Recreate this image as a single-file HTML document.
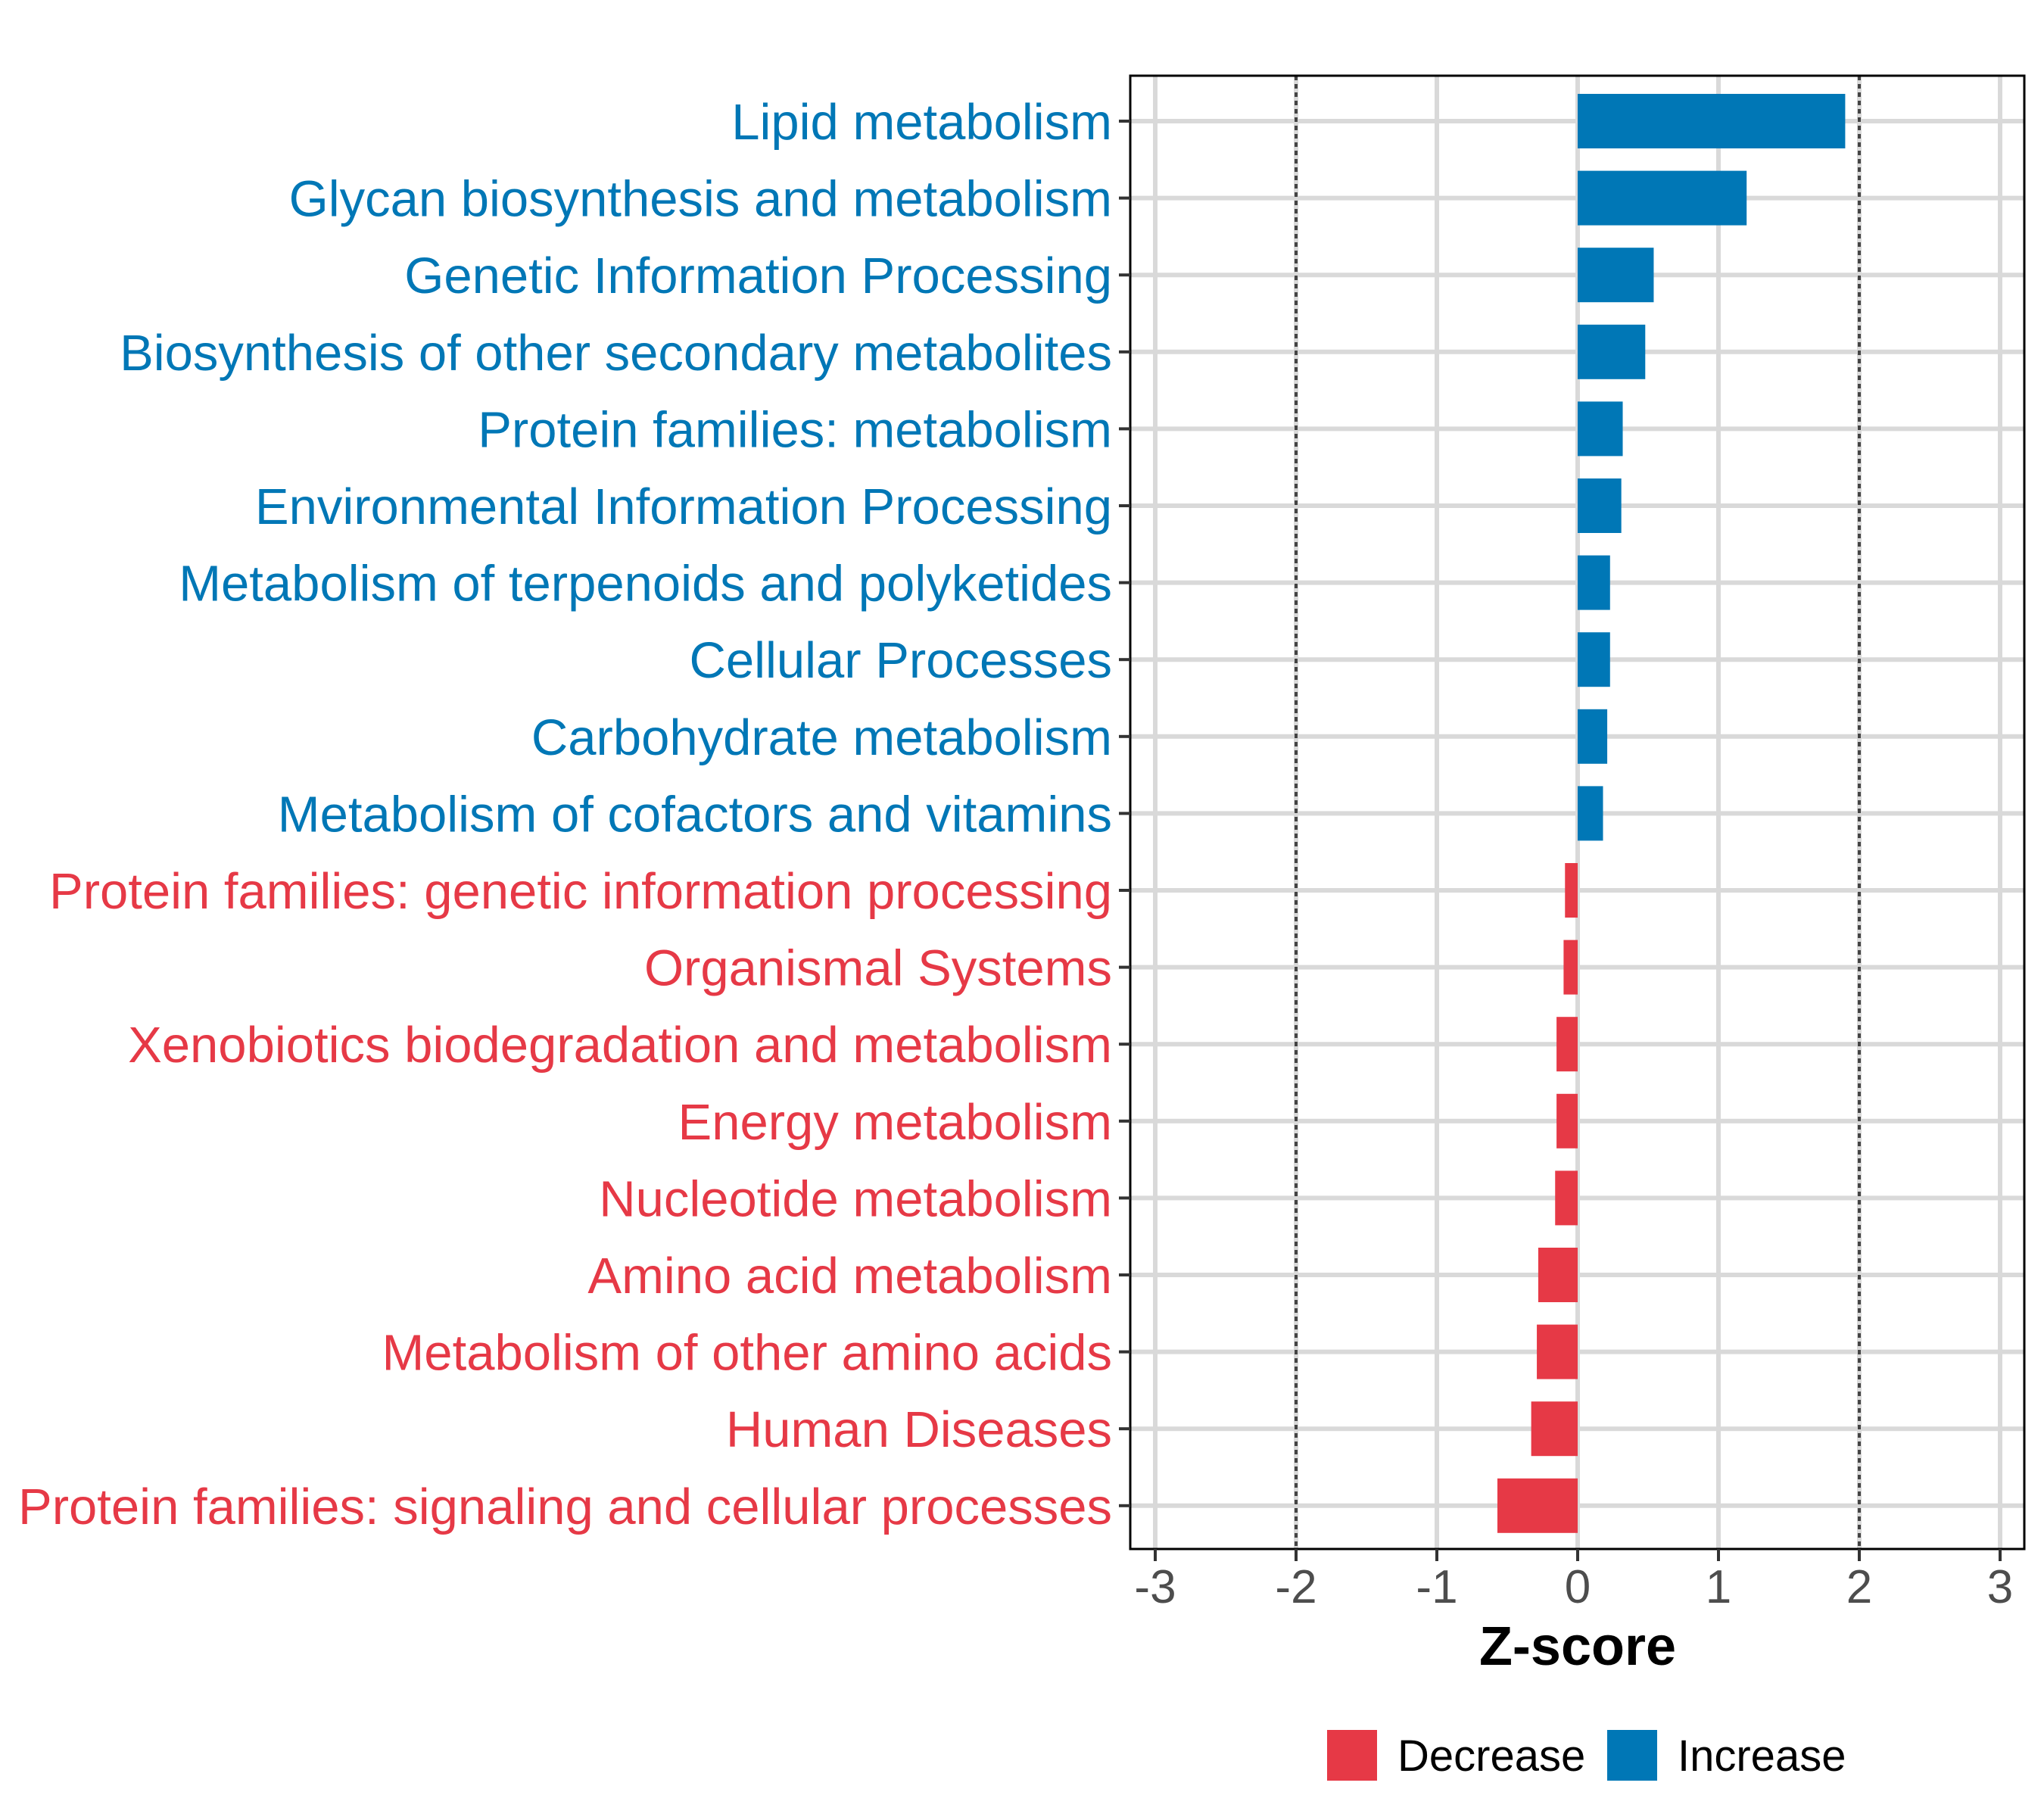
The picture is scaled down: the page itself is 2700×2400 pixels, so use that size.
<!DOCTYPE html>
<html><head><meta charset="utf-8"><style>
html,body{margin:0;padding:0;background:#fff}
svg{display:block}
text{font-family:"Liberation Sans",Arial,sans-serif}
</style></head><body>
<svg id="chart" width="2700" height="2400" viewBox="0 0 2700 2400" xmlns="http://www.w3.org/2000/svg">
<g id="grid"></g>
<g id="bars"></g>
<g id="refs"></g>
<rect x="1493" y="100" width="1181" height="1946" fill="none" stroke="#000" stroke-width="3"/>
<g id="ylabels"></g>
<g id="xaxis"></g>
<text x="2084" y="2199" font-size="72" font-weight="bold" text-anchor="middle">Z-score</text>
<g>
  <rect x="1753" y="2285" width="66" height="67" fill="#E63946"/>
  <text x="1846" y="2339" font-size="58">Decrease</text>
  <rect x="2123" y="2285" width="66" height="67" fill="#0077B6"/>
  <text x="2216" y="2339" font-size="58">Increase</text>
</g>
</svg>
<script>
const categories = ["Lipid metabolism","Glycan biosynthesis and metabolism","Genetic Information Processing","Biosynthesis of other secondary metabolites","Protein families: metabolism","Environmental Information Processing","Metabolism of terpenoids and polyketides","Cellular Processes","Carbohydrate metabolism","Metabolism of cofactors and vitamins","Protein families: genetic information processing","Organismal Systems","Xenobiotics biodegradation and metabolism","Energy metabolism","Nucleotide metabolism","Amino acid metabolism","Metabolism of other amino acids","Human Diseases","Protein families: signaling and cellular processes"];
const zscores = [1.90,1.20,0.54,0.48,0.32,0.31,0.23,0.23,0.21,0.18,-0.09,-0.10,-0.15,-0.15,-0.16,-0.28,-0.29,-0.33,-0.57];
const xTicks = [-3,-2,-1,0,1,2,3];
const xTickLabels = ["-3","-2","-1","0","1","2","3"];
const refLines = [-2,2];

const NS="http://www.w3.org/2000/svg";
const X0=2084, UNIT=186, Y0=160, STEP=101.6, BH=72;
const xs=v=>X0+v*UNIT;
const ys=i=>Y0+i*STEP;
function mk(tag,attrs,parent){const e=document.createElementNS(NS,tag);for(const k in attrs)e.setAttribute(k,attrs[k]);parent.appendChild(e);return e;}
const grid=document.getElementById('grid'),bars=document.getElementById('bars'),refs=document.getElementById('refs'),yl=document.getElementById('ylabels'),xa=document.getElementById('xaxis');
xTicks.forEach((t,i)=>{
  const l=mk('line',{x1:xs(t),x2:xs(t),y1:100,y2:2046,stroke:'#d9d9d9','stroke-width':6},grid);
  
  
  const tk=mk('line',{x1:xs(t),x2:xs(t),y1:2046,y2:2062,stroke:'#333','stroke-width':4},xa);
  
  
  const tx=mk('text',{x:xs(t),y:2117,'font-size':62,'text-anchor':'middle',fill:'#4d4d4d'},xa);
  tx.textContent=xTickLabels[i];
  
  
});
categories.forEach((c,i)=>{
  const y=ys(i);
  const g=mk('line',{x1:1493,x2:2674,y1:y,y2:y,stroke:'#d9d9d9','stroke-width':6},grid);
  
  
  const v=zscores[i], col=v>=0?'#0077B6':'#E63946';
  const r=mk('rect',{x:Math.min(xs(0),xs(v)),y:y-BH/2,width:Math.abs(xs(v)-xs(0)),height:BH,fill:col},bars);
  
  
  const tk=mk('line',{x1:1478,x2:1493,y1:y,y2:y,stroke:'#333','stroke-width':4},yl);
  
  
  const t=mk('text',{x:1469,y:y+24,'font-size':67,'text-anchor':'end',fill:col},yl);
  t.textContent=c;
  
  
});
refLines.forEach(v=>{
  const l=mk('line',{x1:xs(v),x2:xs(v),y1:100,y2:2046,stroke:'#444','stroke-width':4,'stroke-dasharray':'6 5'},refs);
  
  
});
</script>
</body></html>
